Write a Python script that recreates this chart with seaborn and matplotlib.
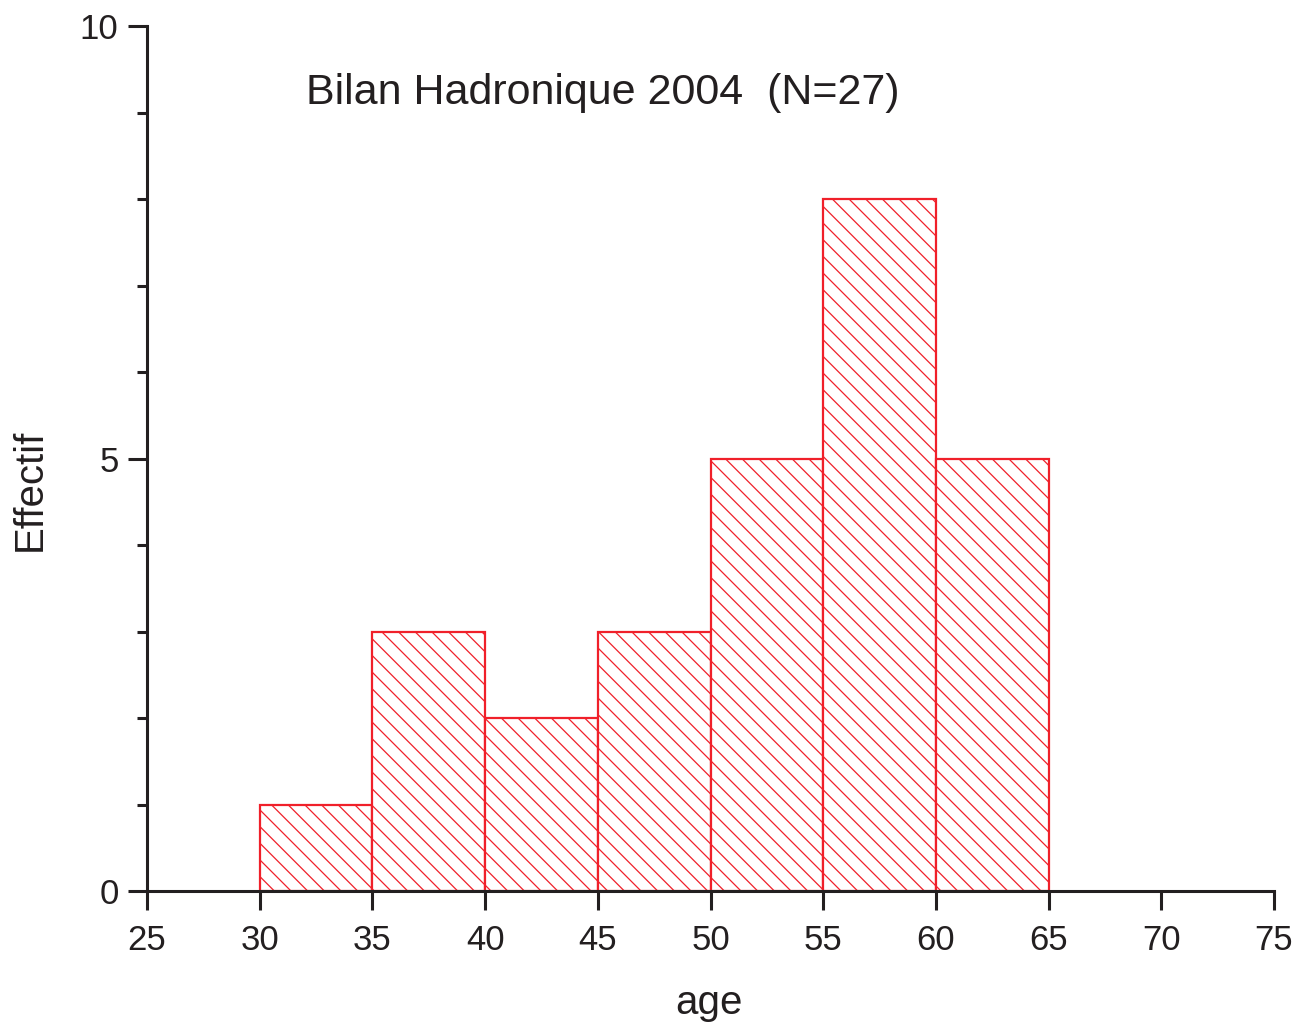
import matplotlib
matplotlib.use("Agg")
import matplotlib.pyplot as plt
import seaborn as sns
import numpy as np
import pandas as pd

bin_edges = [30, 35, 40, 45, 50, 55, 60, 65]
counts = [1, 3, 2, 3, 5, 8, 5]
x_ticks = [25, 30, 35, 40, 45, 50, 55, 60, 65, 70, 75]
y_major = [0, 5, 10]
title_text = "Bilan Hadronique 2004  (N=27)"

sns.set_theme(style="ticks")
plt.rcParams['font.family'] = ['Liberation Sans', 'DejaVu Sans']
plt.rcParams['hatch.color'] = '#f0202a'
plt.rcParams['hatch.linewidth'] = 0.9

centers = [(a + b) / 2 for a, b in zip(bin_edges[:-1], bin_edges[1:])]
df = pd.DataFrame({"age": centers, "n": counts})

fig = plt.figure(figsize=(13.11, 10.31), dpi=100)
ax = fig.add_axes([147/1311, 1-891/1031, (1274-147)/1311, (891-26)/1031])

sns.histplot(data=df, x="age", weights="n", bins=bin_edges, ax=ax,
             fill=True, facecolor="white", edgecolor="#f0202a",
             linewidth=1.6, hatch="\\\\", alpha=1.0)

ax.set_xlim(25, 75)
ax.set_ylim(0, 10)
ax.set_xticks(x_ticks)
ax.set_yticks(y_major)
ax.set_yticks(np.arange(0, 11, 1), minor=True)
for s in ["top", "right"]:
    ax.spines[s].set_visible(False)
for s in ["left", "bottom"]:
    ax.spines[s].set_linewidth(2.2)
    ax.spines[s].set_color("#231f20")
ax.tick_params(axis="both", which="major", direction="out", length=13.5,
               width=2.2, color="#231f20", labelsize=25, labelcolor="#231f20")
ax.tick_params(axis="x", which="major", pad=10)
ax.tick_params(axis="y", which="major", pad=7)
ax.tick_params(axis="y", which="minor", direction="out", length=7.5,
               width=2.2, color="#231f20")
ax.tick_params(axis="x", which="minor", length=0)
ax.set_xlabel("age", fontsize=29, color="#231f20", labelpad=20)
ax.set_ylabel("Effectif", fontsize=29, color="#231f20")
ax.yaxis.set_label_coords(30/1311 - 147/1311, 0.5, transform=None) if False else None
ax.yaxis.label.set_transform(fig.transFigure)
ax.yaxis.set_label_coords(30/1311, 1 - 490/1031, transform=fig.transFigure)
ax.xaxis.set_label_coords(709/1311, 1 - 1003/1031, transform=fig.transFigure)
ax.yaxis.label.set_va("center")
ax.xaxis.label.set_va("center")
ax.text(45.2, 9.22, title_text, fontsize=31, color="#231f20",
        ha="center", va="center")
ax.set_facecolor("white")
ax.grid(False)

fig.savefig("out.png", dpi=100, facecolor="white")
